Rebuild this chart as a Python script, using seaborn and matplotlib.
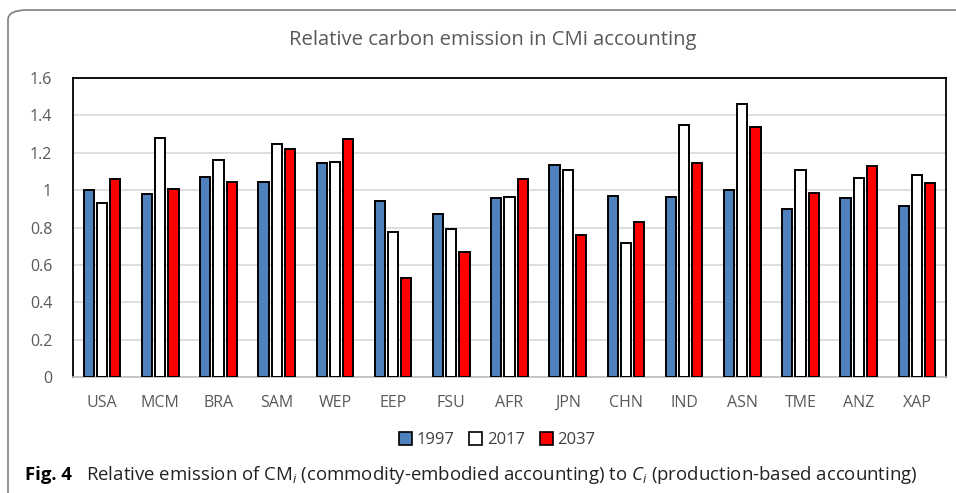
import numpy as np
import pandas as pd
import matplotlib
matplotlib.use("Agg")
import matplotlib.pyplot as plt
import seaborn as sns
from matplotlib.patches import FancyBboxPatch, Patch

regions = ['USA', 'MCM', 'BRA', 'SAM', 'WEP', 'EEP', 'FSU', 'AFR',
           'JPN', 'CHN', 'IND', 'ASN', 'TME', 'ANZ', 'XAP']
years = ['1997', '2017', '2037']
v1997 = [1.00, 0.98, 1.07, 1.045, 1.145, 0.94, 0.87, 0.96, 1.135, 0.97, 0.965, 1.00, 0.90, 0.96, 0.915]
v2017 = [0.93, 1.28, 1.16, 1.245, 1.15, 0.775, 0.79, 0.965, 1.11, 0.715, 1.35, 1.46, 1.11, 1.065, 1.08]
v2037 = [1.06, 1.005, 1.045, 1.22, 1.275, 0.53, 0.67, 1.06, 0.76, 0.83, 1.145, 1.34, 0.985, 1.13, 1.04]
colors = ['#4f81bd', '#ffffff', '#ff0000']

df = pd.DataFrame({'region': regions * 3,
                   'year': [y for y in years for _ in regions],
                   'value': v1997 + v2017 + v2037})

sns.set_style('white')
plt.rcParams['font.family'] = ['Open Sans', 'DejaVu Sans']
plt.rcParams['mathtext.fontset'] = 'custom'
plt.rcParams['mathtext.rm'] = 'Open Sans'
plt.rcParams['mathtext.it'] = 'Open Sans:italic'

fig = plt.figure(figsize=(9.56, 4.93), dpi=100)
ax = fig.add_axes([73/956, 1-377/493, (946-73)/956, (377-78)/493])

sns.barplot(data=df, x='region', y='value', hue='year', palette=colors,
            saturation=1, width=0.68, gap=0.23, edgecolor='black', linewidth=1.4,
            legend=False, ax=ax, zorder=3)

ax.set_ylim(0, 1.6)
ax.set_yticks(np.arange(0, 1.61, 0.2))
ax.set_yticklabels(['0', '0.2', '0.4', '0.6', '0.8', '1', '1.2', '1.4', '1.6'])
ax.set_xlim(-0.5, len(regions) - 0.5)
ax.grid(axis='y', color='#d9d9d9', linewidth=1.2, zorder=0)
ax.set_xlabel('')
ax.set_ylabel('')
ax.tick_params(axis='both', length=0, labelsize=11.5, labelcolor='#595959')
ax.tick_params(axis='x', pad=13)
ax.tick_params(axis='y', pad=15)
for s in ['top', 'right', 'left']:
    ax.spines[s].set_color('black')
    ax.spines[s].set_linewidth(1.3)
ax.spines['bottom'].set_color('#bfbfbf')
ax.spines['bottom'].set_linewidth(1.2)

fig.text(493/956, 1-40/493, 'Relative carbon emission in CMi accounting',
         ha='center', va='center', fontsize=14.6, color='#595959')

handles = [Patch(facecolor=c, edgecolor='black', linewidth=1.2) for c in colors]
fig.legend(handles, years, loc='center', bbox_to_anchor=(497/956, 1-440/493),
           ncol=3, frameon=False, fontsize=12, handlelength=0.8, handleheight=0.8,
           handletextpad=0.25, columnspacing=0.9, labelcolor='#404040')

fig.text(25/956, 1-475/493, 'Fig. 4', fontsize=13.3, fontweight='bold',
         ha='left', va='center', color='black')
fig.text(86/956, 1-475/493,
         r'Relative emission of CM$_{i}$ (commodity-embodied accounting) to $C_{i}$ (production-based accounting)',
         fontsize=13.4, ha='left', va='center', color='#222222')

box = FancyBboxPatch((8/956, -20/493), 980/956, (483+20)/493,
                     boxstyle='round,pad=0,rounding_size=0.02',
                     transform=fig.transFigure, facecolor='none',
                     edgecolor='#7f7f7f', linewidth=1.2, clip_on=False)
fig.patches.append(box)

fig.savefig('out.png', dpi=100)
